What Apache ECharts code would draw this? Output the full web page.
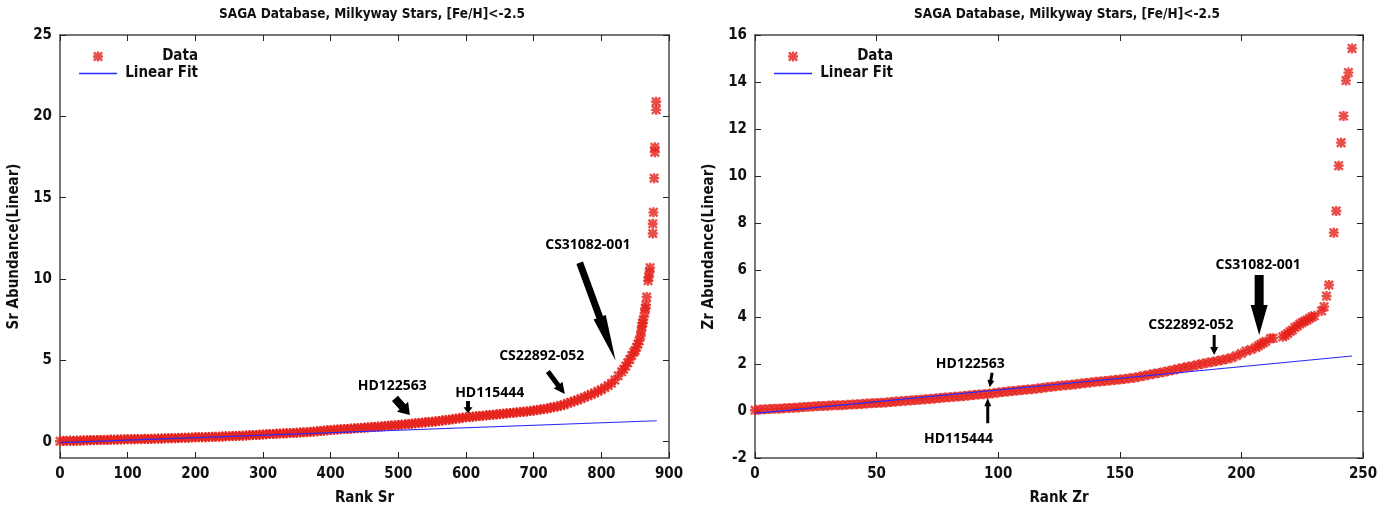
<!DOCTYPE html>
<html>
<head>
<meta charset="utf-8">
<script src="https://cdn.jsdelivr.net/npm/echarts@6/dist/echarts.min.js"></script>
<style>html,body{margin:0;padding:0;background:#fff;}#c{width:1400px;height:513px;}</style>
</head>
<body>
<div id="c"></div>
<script>
// ---------- DATA ----------
const titleText = 'SAGA Database, Milkyway Stars, [Fe/H]<-2.5';
const srYTicks = [0, 5, 10, 15, 20, 25];
const zrYTicks = [-2, 0, 2, 4, 6, 8, 10, 12, 14, 16];

// Sr abundance, ranked; band values every 5 ranks (rank 0..800)
const srBandStep = 5;
const srBand = [
  0.03,0.06,0.04,0.07,0.05,0.08,0.06,0.09,0.08,0.10,0.09,0.11,0.10,0.12,0.11,0.13,0.12,0.14,0.13,0.15,0.15,
  0.16,0.15,0.17,0.16,0.18,0.17,0.19,0.18,0.20,0.19,0.21,0.21,0.22,0.22,0.23,0.24,0.24,0.25,0.26,0.27,
  0.27,0.28,0.28,0.29,0.30,0.30,0.31,0.32,0.33,0.33,0.35,0.35,0.36,0.37,0.38,0.40,0.41,0.42,0.43,0.45,
  0.46,0.47,0.48,0.49,0.50,0.51,0.52,0.53,0.54,0.55,0.56,0.58,0.59,0.61,0.62,0.64,0.66,0.68,0.70,0.72,
  0.73,0.75,0.76,0.78,0.79,0.81,0.82,0.84,0.85,0.87,0.88,0.90,0.91,0.93,0.94,0.96,0.98,1.00,1.01,1.03,
  1.05,1.07,1.09,1.11,1.13,1.15,1.17,1.19,1.21,1.23,1.25,1.28,1.30,1.33,1.35,1.38,1.41,1.44,1.47,1.50,
  1.52,1.54,1.56,1.58,1.60,1.62,1.64,1.66,1.68,1.70,1.72,1.74,1.76,1.78,1.80,1.82,1.84,1.86,1.89,1.92,
  1.95,1.98,2.01,2.05,2.09,2.13,2.17,2.22,2.28,2.36,2.43,2.50,2.57,2.65,2.73,2.82,2.91,3.00,3.10,3.20
];
// [rank, Sr] for the steep tail
const srTail = [
  [805,3.32],[810,3.45],[815,3.60],[820,3.80],[825,4.05],[830,4.30],[833,4.45],[836,4.65],[839,4.85],[842,5.05],
  [845,5.30],[848,5.50],[850,5.60],[852,5.80],[854,6.00],[856,6.20],[858,6.50],[859,6.80],[860,7.10],[861,7.30],
  [862,7.50],[864,7.90],[865,8.20],[866,8.40],[867,8.90],[869,9.90],[870,10.1],[871,10.4],[872,10.7],[876,12.8],
  [876,13.4],[877,14.1],[878,16.2],[879,17.8],[879,18.1],[881,20.4],[881,20.9]
];
const srFit = [[0,-0.06],[882,1.29]];

// Zr abundance, ranked; band values every 2 ranks (rank 0..204)
const zrBandStep = 2;
const zrBand = [
  0.03,0.06,0.07,0.08,0.10,0.10,0.12,0.13,0.14,0.15,0.17,
  0.18,0.19,0.21,0.21,0.22,0.24,0.24,0.25,0.27,0.28,
  0.29,0.30,0.32,0.33,0.34,0.35,0.36,0.38,0.40,0.42,
  0.44,0.45,0.47,0.48,0.50,0.51,0.53,0.55,0.57,0.59,
  0.61,0.62,0.64,0.66,0.68,0.70,0.71,0.73,0.76,0.79,
  0.81,0.83,0.85,0.87,0.89,0.91,0.93,0.96,0.98,1.01,
  1.03,1.05,1.08,1.10,1.12,1.14,1.17,1.19,1.21,1.24,
  1.26,1.28,1.30,1.32,1.34,1.36,1.39,1.42,1.46,1.50,
  1.54,1.58,1.62,1.66,1.70,1.75,1.80,1.84,1.88,1.92,
  1.97,2.01,2.05,2.09,2.13,2.17,2.21,2.27,2.35,2.45,
  2.55,2.62
];
// [rank, Zr] for the tail
const zrTail = [
  [206,2.70],[207,2.78],[208,2.84],[209,2.90],[210,2.96],[212,3.08],[213,3.10],[217,3.16],[218,3.22],[219,3.30],
  [220,3.38],[221,3.45],[222,3.55],[223,3.62],[224,3.70],[225,3.77],[226,3.82],[227,3.87],[228,3.94],[229,4.00],
  [230,4.05],[233,4.26],[234,4.44],[235,4.89],[236,5.36],[238,7.59],[239,8.51],[240,10.44],[241,11.42],[242,12.55],
  [243,14.06],[244,14.4],[245.5,15.43]
];
const zrFit = [[0,-0.10],[245.5,2.34]];

// annotations: [label, labelAt, arrowFrom, arrowTo] in data units
const srNotes = [
  ['CS31082-001', [780, 12.1], [768, 11.0], [821, 5.0]],
  ['CS22892-052', [712, 5.28], [721, 4.31], [746, 2.94]],
  ['HD115444',    [635, 2.98], [603, 2.50], [603, 1.75]],
  ['HD122563',    [491, 3.45], [495, 2.67], [517, 1.64]]
];
const zrNotes = [
  ['HD122563',    [88.5, 2.0],  [97.5, 1.63],  [96.5, 1.01]],
  ['HD115444',    [83.7, -1.2], [95.7, -0.52], [95.7, 0.54]],
  ['CS22892-052', [179.2, 3.66],[188.8, 3.23], [188.8, 2.38]],
  ['CS31082-001', [206.9, 6.21],[207.3, 5.79], [207.3, 3.23]]
];

// ---------- STYLE ----------
// arrow [shaftWidth, headWidth, headLength] for each note, same order
const srArrowStyle = [[7, 13, 46], [5, 11, 11], [4, 9, 6], [8, 15, 11]];
const zrArrowStyle = [[3, 7, 7], [3, 7, 8], [3, 8, 8], [9, 17, 30]];

const STAR = 'path://M3.8 0 L6.2 0 L6.2 10 L3.8 10 Z M0 3.8 L10 3.8 L10 6.2 L0 6.2 Z M1.7 0 L10 8.3 L8.3 10 L0 1.7 Z M8.3 0 L10 1.7 L1.7 10 L0 8.3 Z';
const LINEICON = 'path://M0 0 L38 0 L38 1.3 L0 1.3 Z';
const RED = '#e5201a';
const BLUE = '#2a2aff';
const AXC = '#4a4a4a';
const NARROW = '"Liberation Sans Narrow", "DejaVu Sans Condensed", "Liberation Sans", sans-serif';

const srData = srBand.map((v, i) => [i * srBandStep, v]).concat(srTail);
const zrData = zrBand.map((v, i) => [i * zrBandStep, v]).concat(zrTail);

const chart = echarts.init(document.getElementById('c'), null, {renderer: 'canvas'});

function xAx(grid, min, max, interval, name, pos) {
  const main = pos === 'bottom';
  return {
    gridIndex: grid, type: 'value', min: min, max: max, interval: interval, position: pos,
    name: main ? name : '', nameLocation: 'middle', nameGap: 33,
    nameTextStyle: {fontFamily: NARROW, fontWeight: 'bold', fontSize: 15, color: '#111'},
    axisLine: {show: true, onZero: false, lineStyle: {color: AXC, width: 1.5}},
    axisTick: {show: true, inside: true, length: 6, lineStyle: {color: '#222', width: 1}},
    axisLabel: {show: main, margin: 9, fontFamily: NARROW, fontWeight: 'bold', fontSize: 15, color: '#111'},
    splitLine: {show: false}
  };
}
function yAx(grid, min, max, ticks, name, pos) {
  const main = pos === 'left';
  return {
    gridIndex: grid, type: 'value', min: min, max: max, position: pos,
    name: main ? name : '', nameLocation: 'middle', nameGap: 38, nameRotate: 90,
    nameTextStyle: {fontFamily: NARROW, fontWeight: 'bold', fontSize: 15, color: '#111'},
    axisLine: {show: true, onZero: false, lineStyle: {color: AXC, width: 1.5}},
    axisTick: {show: true, inside: true, length: 6, customValues: ticks, lineStyle: {color: '#222', width: 1}},
    axisLabel: {show: main, margin: 8, customValues: ticks, fontFamily: NARROW, fontWeight: 'bold', fontSize: 15, color: '#111'},
    splitLine: {show: false}
  };
}
function legend(left) {
  return {
    left: left, top: 44, orient: 'vertical', itemWidth: 38, itemHeight: 10, itemGap: 2,
    symbolKeepAspect: true,
    data: [
      {name: 'Data', icon: STAR, itemStyle: {color: RED}},
      {name: 'Linear Fit', icon: LINEICON, itemStyle: {color: BLUE}}
    ],
    formatter: n => '{t|' + n + '}',
    textStyle: {rich: {t: {width: 76, align: 'right', fontFamily: NARROW, fontWeight: 'bold', fontSize: 15, lineHeight: 16, color: '#111'}}}
  };
}

chart.setOption({
  animation: false,
  backgroundColor: '#fff',
  title: [
    {text: titleText, left: 367, top: 2, textAlign: 'center', textStyle: {fontFamily: NARROW, fontWeight: 'bold', fontSize: 13.5, color: '#111'}},
    {text: titleText, left: 1062, top: 2, textAlign: 'center', textStyle: {fontFamily: NARROW, fontWeight: 'bold', fontSize: 13.5, color: '#111'}}
  ],
  legend: [legend(74), legend(769)],
  grid: [
    {left: 60, right: 731, top: 35, bottom: 55, show: false},
    {left: 755, right: 37, top: 35, bottom: 55, show: false}
  ],
  xAxis: [
    xAx(0, 0, 900, 100, 'Rank Sr', 'bottom'), xAx(0, 0, 900, 100, '', 'top'),
    xAx(1, 0, 250, 50, 'Rank Zr', 'bottom'), xAx(1, 0, 250, 50, '', 'top')
  ],
  yAxis: [
    yAx(0, -1, 25, srYTicks, 'Sr Abundance(Linear)', 'left'), yAx(0, -1, 25, srYTicks, '', 'right'),
    yAx(1, -2, 16, zrYTicks, 'Zr Abundance(Linear)', 'left'), yAx(1, -2, 16, zrYTicks, '', 'right')
  ],
  series: [
    {name: 'Data', type: 'scatter', xAxisIndex: 0, yAxisIndex: 0, data: srData, symbol: STAR, symbolSize: 10, itemStyle: {color: RED}, z: 2},
    {name: 'Linear Fit', type: 'line', xAxisIndex: 0, yAxisIndex: 0, data: srFit, symbol: 'none', lineStyle: {color: BLUE, width: 1.2}, itemStyle: {color: BLUE}, z: 3},
    {name: 'Data', type: 'scatter', xAxisIndex: 2, yAxisIndex: 2, data: zrData, symbol: STAR, symbolSize: 10, itemStyle: {color: RED}, z: 2},
    {name: 'Linear Fit', type: 'line', xAxisIndex: 2, yAxisIndex: 2, data: zrFit, symbol: 'none', lineStyle: {color: BLUE, width: 1.2}, itemStyle: {color: BLUE}, z: 3}
  ]
});

function arrowPoints(p0, p1, w, W, L) {
  const dx = p1[0] - p0[0], dy = p1[1] - p0[1];
  const len = Math.sqrt(dx * dx + dy * dy) || 1;
  const ux = dx / len, uy = dy / len, nx = -uy, ny = ux;
  const b = [p1[0] - ux * L, p1[1] - uy * L];
  return [
    [p0[0] + nx * w / 2, p0[1] + ny * w / 2],
    [b[0] + nx * w / 2, b[1] + ny * w / 2],
    [b[0] + nx * W / 2, b[1] + ny * W / 2],
    [p1[0], p1[1]],
    [b[0] - nx * W / 2, b[1] - ny * W / 2],
    [b[0] - nx * w / 2, b[1] - ny * w / 2],
    [p0[0] - nx * w / 2, p0[1] - ny * w / 2]
  ];
}
function buildNotes(notes, styles, axisIdx) {
  const finder = {xAxisIndex: axisIdx, yAxisIndex: axisIdx};
  const out = [];
  notes.forEach((n, i) => {
    const t = chart.convertToPixel(finder, n[1]);
    const a = chart.convertToPixel(finder, n[2]);
    const b = chart.convertToPixel(finder, n[3]);
    const s = styles[i];
    out.push({type: 'polygon', shape: {points: arrowPoints(a, b, s[0], s[1], s[2])}, style: {fill: '#000'}, z: 10});
    out.push({type: 'text', x: t[0], y: t[1], z: 10, style: {text: n[0], align: 'center', verticalAlign: 'middle', fill: '#000', font: 'bold 14px "Open Sans", "DejaVu Sans", sans-serif'}});
  });
  return out;
}
chart.setOption({graphic: buildNotes(srNotes, srArrowStyle, 0).concat(buildNotes(zrNotes, zrArrowStyle, 2))});
</script>
</body>
</html>
